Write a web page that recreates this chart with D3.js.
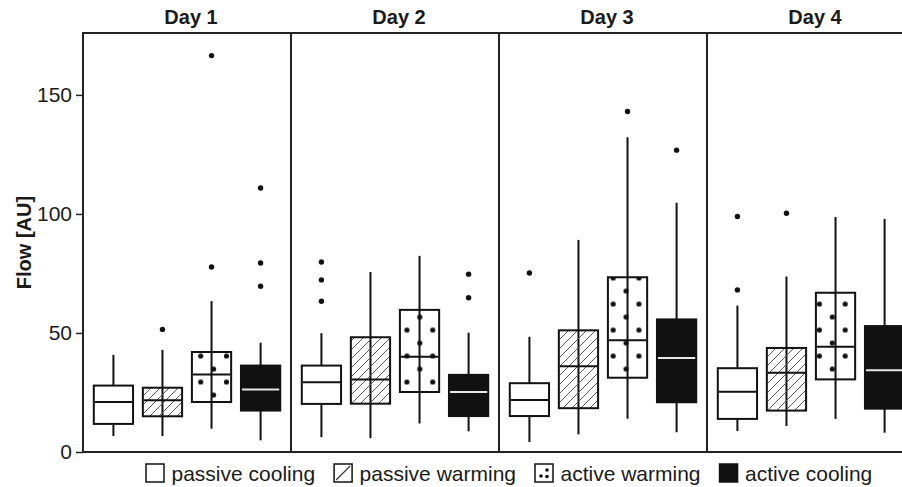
<!DOCTYPE html>
<html>
<head>
<meta charset="utf-8">
<script src="https://cdn.jsdelivr.net/npm/d3@7"></script>
<style>
    body { margin: 0; background: #fff; }
    #chart-area { width: 902px; height: 487px; overflow: hidden; }
    text { font-family: "Liberation Sans", Arial, sans-serif; fill: #1a1a1a; }
</style>
</head>
<body>
<div id="chart-area"></div>
<script>
// panels and groups
const days = ["Day 1", "Day 2", "Day 3", "Day 4"];
const groups = ["passive cooling", "passive warming", "active warming", "active cooling"];
const yTicks = [0, 50, 100, 150];

// box stats per day: [whisker low, q1, median, q3, whisker high]
const passiveCooling = [[6.7, 11.8, 21.0, 27.9, 40.8], [6.2, 20.2, 29.3, 36.3, 49.9], [4.2, 15.1, 21.8, 28.9, 48.4], [8.8, 13.9, 25.3, 35.2, 61.5]];
const passiveWarming = [[6.7, 15.0, 21.7, 27.0, 42.9], [5.8, 20.3, 30.5, 48.2, 75.6], [7.4, 18.4, 36.0, 51.1, 89.1], [10.9, 17.4, 33.3, 43.7, 73.7]];
const activeWarming = [[9.8, 21.0, 32.6, 42.0, 63.4], [12.0, 25.2, 40.0, 59.7, 82.4], [14.0, 31.2, 46.9, 73.4, 132.2], [13.9, 30.5, 44.2, 66.9, 98.7]];
const activeCooling = [[4.9, 17.4, 26.3, 36.3, 45.9], [8.7, 15.1, 25.2, 32.4, 50.1], [8.3, 20.9, 39.5, 55.7, 104.7], [8.1, 18.2, 34.3, 52.9, 97.9]];

// outliers per day
const passiveCoolingOut = [[], [79.8, 72.3, 63.3], [75.2], [98.9, 68.1]];
const passiveWarmingOut = [[51.5], [], [], [100.3]];
const activeWarmingOut = [[166.5, 77.7], [], [143.0], []];
const activeCoolingOut = [[110.9, 79.4, 69.6], [74.7, 64.8], [126.8], []];

/* * * * * * * * * * * * * * * * * * *
*        class FlowBoxPlot           *
* * * * * * * * * * * * * * * * * * */

class FlowBoxPlot {
    constructor(parentElement) {
        this.parentElement = parentElement
        this.initVis();
    }

    initVis() {
        let vis = this;

        vis.margin = {top: 33, right: 0, bottom: 35, left: 83};
        vis.panelWidth = 208;
        vis.height = 487 - vis.margin.top - vis.margin.bottom;

        vis.svg = d3.select("#" + vis.parentElement).append("svg")
            .attr("width", 902)
            .attr("height", 487);

        // fill patterns (user space = inner chart group)
        let defs = vis.svg.append("defs");
        defs.append("pattern")
            .attr("id", "hatch")
            .attr("patternUnits", "userSpaceOnUse")
            .attr("width", 9)
            .attr("height", 9)
            .append("path")
            .attr("d", "M-1,1 l2,-2 M0,9 l9,-9 M8,10 l2,-2")
            .attr("stroke", "#555")
            .attr("stroke-width", 1);

        let dots = defs.append("pattern")
            .attr("id", "dots")
            .attr("patternUnits", "userSpaceOnUse")
            .attr("x", 111.25)
            .attr("y", 316.5)
            .attr("width", 25.78)
            .attr("height", 26);
        dots.append("circle").attr("cx", 6.45).attr("cy", 6.5).attr("r", 2.6).attr("fill", "#111");
        dots.append("circle").attr("cx", 19.34).attr("cy", 19.5).attr("r", 2.6).attr("fill", "#111");

        vis.styles = {
            "passive cooling": {fill: "#fff", median: "#111"},
            "passive warming": {fill: "url(#hatch)", median: "#111"},
            "active warming": {fill: "url(#dots)", median: "#111"},
            "active cooling": {fill: "#111", median: "#e8e8e8"}
        };

        vis.chart = vis.svg.append("g")
            .attr("transform", `translate(${vis.margin.left}, ${vis.margin.top})`);

        // scales
        vis.x = d3.scaleBand().domain(days).range([0, vis.panelWidth * days.length]);
        vis.xGroup = d3.scaleBand().domain(groups).range([0, vis.panelWidth])
            .paddingInner(0.2).paddingOuter(0.22);
        vis.y = d3.scaleLinear().domain([0, 176]).range([vis.height, 0]);

        // y axis
        let yAxis = vis.chart.append("g")
            .attr("class", "axis axis-y")
            .call(d3.axisLeft(vis.y).tickValues(yTicks).tickSize(7).tickPadding(4));
        yAxis.select(".domain").remove();
        yAxis.selectAll("line").attr("stroke", "#222").attr("stroke-width", 1.5);
        yAxis.selectAll("text").style("font-size", "21px").attr("fill", "#222");

        // y-axis label
        vis.svg.append("text")
            .attr("class", "y-axis-label")
            .attr("transform", `translate(31, ${vis.margin.top + vis.height / 2}) rotate(-90)`)
            .attr("text-anchor", "middle")
            .style("font-size", "20px")
            .style("font-weight", "bold")
            .text("Flow [AU]");

        vis.wrangleData();
    }

    wrangleData() {
        let vis = this;
        let stats = [passiveCooling, passiveWarming, activeWarming, activeCooling];
        let outs = [passiveCoolingOut, passiveWarmingOut, activeWarmingOut, activeCoolingOut];

        vis.displayData = [];
        vis.outlierData = [];
        days.forEach((day, i) => {
            groups.forEach((group, j) => {
                let s = stats[j][i];
                vis.displayData.push({day: day, group: group, lo: s[0], q1: s[1], med: s[2], q3: s[3], hi: s[4]});
                outs[j][i].forEach(v => vis.outlierData.push({day: day, group: group, value: v}));
            });
        });

        vis.updateVis();
    }

    updateVis() {
        let vis = this;
        let cx = d => vis.x(d.day) + vis.xGroup(d.group) + vis.xGroup.bandwidth() / 2;
        let bw = vis.xGroup.bandwidth();

        // panels
        vis.chart.selectAll(".panel")
            .data(days)
            .enter()
            .append("rect")
            .attr("class", "panel")
            .attr("x", d => vis.x(d))
            .attr("y", 0)
            .attr("width", vis.x.bandwidth())
            .attr("height", vis.height)
            .attr("fill", "none")
            .attr("stroke", "#222")
            .attr("stroke-width", 2);

        // panel titles
        vis.svg.selectAll(".day-title")
            .data(days)
            .enter()
            .append("text")
            .attr("class", "day-title")
            .attr("x", d => vis.margin.left + vis.x(d) + vis.x.bandwidth() / 2 + 4)
            .attr("y", 24)
            .attr("text-anchor", "middle")
            .style("font-size", "20px")
            .style("font-weight", "bold")
            .text(d => d);

        // whiskers
        vis.chart.selectAll(".whisker")
            .data(vis.displayData)
            .enter()
            .append("line")
            .attr("class", "whisker")
            .attr("x1", cx)
            .attr("x2", cx)
            .attr("y1", d => vis.y(d.lo))
            .attr("y2", d => vis.y(d.hi))
            .attr("stroke", "#111")
            .attr("stroke-width", 2);

        // boxes
        vis.chart.selectAll(".box")
            .data(vis.displayData)
            .enter()
            .append("rect")
            .attr("class", "box")
            .attr("x", d => cx(d) - bw / 2)
            .attr("width", bw)
            .attr("y", d => vis.y(d.q3))
            .attr("height", d => vis.y(d.q1) - vis.y(d.q3))
            .attr("fill", d => vis.styles[d.group].fill)
            .attr("stroke", "#111")
            .attr("stroke-width", 2);

        // medians
        vis.chart.selectAll(".median")
            .data(vis.displayData)
            .enter()
            .append("line")
            .attr("class", "median")
            .attr("x1", d => cx(d) - bw / 2 + 1)
            .attr("x2", d => cx(d) + bw / 2 - 1)
            .attr("y1", d => vis.y(d.med))
            .attr("y2", d => vis.y(d.med))
            .attr("stroke", d => vis.styles[d.group].median)
            .attr("stroke-width", 2);

        // outliers
        vis.chart.selectAll(".outlier")
            .data(vis.outlierData)
            .enter()
            .append("circle")
            .attr("class", "outlier")
            .attr("cx", cx)
            .attr("cy", d => vis.y(d.value))
            .attr("r", 2.7)
            .attr("fill", "#111");

        // legend
        let legend = vis.svg.append("g").attr("class", "legend");
        let lx = 146;
        groups.forEach(group => {
            let item = legend.append("g").attr("transform", `translate(${lx}, 464)`);
            item.append("rect")
                .attr("width", 18)
                .attr("height", 18)
                .attr("fill", group === "active cooling" ? "#111" : "#fff")
                .attr("stroke", "#111")
                .attr("stroke-width", 1.5);
            if (group === "passive warming") {
                item.append("line").attr("x1", 2).attr("y1", 16).attr("x2", 16).attr("y2", 2)
                    .attr("stroke", "#333").attr("stroke-width", 1.2);
            }
            if (group === "active warming") {
                [[6, 12], [12, 6], [12, 12.5]].forEach(p => {
                    item.append("circle").attr("cx", p[0]).attr("cy", p[1]).attr("r", 1.8).attr("fill", "#111");
                });
            }
            let label = item.append("text")
                .attr("x", 25.5)
                .attr("y", 17)
                .style("font-size", "21px")
                .text(group);
            lx += 25.5 + label.node().getComputedTextLength() + 19;
        });
    }
}

new FlowBoxPlot("chart-area");
</script>
</body>
</html>
